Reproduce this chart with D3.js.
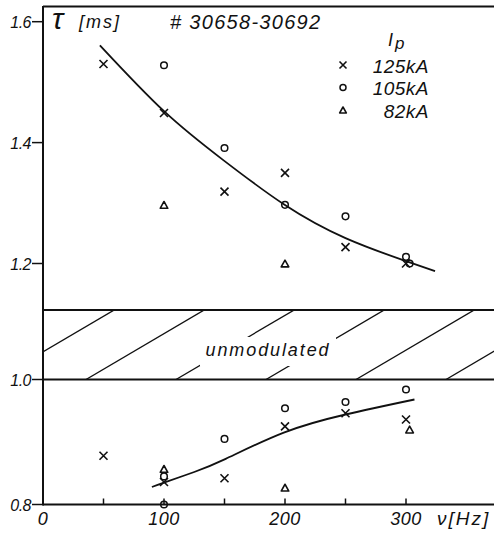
<!DOCTYPE html>
<html><head><meta charset="utf-8">
<script src="https://cdn.jsdelivr.net/npm/d3@7"></script>
<style>
html,body{margin:0;padding:0;background:#fff;}
svg{display:block;}
text{font-family:"Liberation Sans",Arial,sans-serif;font-style:italic;fill:#111;}
</style></head>
<body>
<script>
// ---- data ----
const xTicks = [0, 100, 200, 300];
const xMinorTicks = [50, 100, 150, 200, 250, 300];
const yTicks = [1.6, 1.4, 1.2, 1.0, 0.8];
const seriesNames = ["125kA", "105kA", "82kA"];
// upper panel (modulated)
const x125u = [50, 100, 150, 200, 250, 300];
const y125u = [1.53, 1.449, 1.319, 1.35, 1.227, 1.20];
const x105u = [100, 150, 200, 250, 300, 303];
const y105u = [1.528, 1.391, 1.297, 1.278, 1.211, 1.20];
const x82u = [100, 200];
const y82u = [1.296, 1.199];
// lower panel
const x125l = [50, 100, 150, 200, 250, 300];
const y125l = [0.878, 0.836, 0.842, 0.925, 0.946, 0.936];
const x105l = [100, 100, 150, 200, 250, 300];
const y105l = [0.80, 0.845, 0.905, 0.954, 0.964, 0.984];
const x82l = [100, 200, 303];
const y82l = [0.856, 0.826, 0.919];
// fitted curves
const fitUx = [47, 100, 149, 199, 250, 300, 324];
const fitUy = [1.561, 1.452, 1.371, 1.298, 1.242, 1.204, 1.187];
const fitLx = [90, 100, 125, 151, 199, 250, 307];
const fitLy = [0.828, 0.835, 0.852, 0.873, 0.915, 0.944, 0.968];
// unmodulated band
const bandLow = 1.0, bandHigh = 1.12;

const W = 494, H = 538;
const svg = d3.select("body").append("svg").attr("width", W).attr("height", H);

const x = d3.scaleLinear().domain([0, 300]).range([43, 406]);
const y = d3.scaleLinear().domain([0.8, 1.0, 1.2, 1.6]).range([504.5, 379.5, 263.5, 21.7]);

const ink = "#111";

// frame: top line, left axis, bottom axis
svg.append("line").attr("x1", x(0)).attr("x2", W).attr("y1", 6.5).attr("y2", 6.5)
  .attr("stroke", ink).attr("stroke-width", 2);
svg.append("line").attr("x1", x(0)).attr("x2", x(0)).attr("y1", 6).attr("y2", y(0.8) + 1)
  .attr("stroke", ink).attr("stroke-width", 2);
svg.append("line").attr("x1", x(0)).attr("x2", W).attr("y1", y(0.8)).attr("y2", y(0.8))
  .attr("stroke", ink).attr("stroke-width", 2);

// band
const by0 = y(bandHigh), by1 = y(bandLow);
svg.append("line").attr("x1", x(0)).attr("x2", W).attr("y1", by0).attr("y2", by0)
  .attr("stroke", ink).attr("stroke-width", 2);
svg.append("line").attr("x1", x(0)).attr("x2", W).attr("y1", by1).attr("y2", by1)
  .attr("stroke", ink).attr("stroke-width", 2);
const defs = svg.append("defs");
defs.append("clipPath").attr("id", "bandclip").append("rect")
  .attr("x", x(0) + 1).attr("y", by0).attr("width", W - x(0)).attr("height", by1 - by0);
const hatch = svg.append("g").attr("clip-path", "url(#bandclip)");
const slope = 1.7, step = 90;
for (let bx = 86 - 2 * step; bx < W + step; bx += step) {
  hatch.append("line").attr("x1", bx).attr("y1", by1)
    .attr("x2", bx + slope * (by1 - by0)).attr("y2", by0)
    .attr("stroke", ink).attr("stroke-width", 1.3);
}
hatch.append("rect").attr("x", 200).attr("y", 337).attr("width", 136).attr("height", 29).attr("fill", "#fff");
svg.append("text").attr("x", 268).attr("y", 356).attr("text-anchor", "middle")
  .attr("font-size", 18).attr("letter-spacing", 1.9).text("unmodulated");

// y ticks
const gy = svg.append("g");
yTicks.forEach(v => {
  gy.append("line").attr("x1", x(0) - 11).attr("x2", x(0)).attr("y1", y(v)).attr("y2", y(v))
    .attr("stroke", ink).attr("stroke-width", 1.5);
  gy.append("text").attr("x", x(0) - 12).attr("y", y(v) + 6).attr("text-anchor", "end")
    .attr("font-size", 16).attr("letter-spacing", -0.5).text(d3.format(".1f")(v));
});
// x ticks (inward)
xMinorTicks.forEach(v => {
  svg.append("line").attr("x1", x(v)).attr("x2", x(v)).attr("y1", y(0.8)).attr("y2", y(0.8) - 6)
    .attr("stroke", ink).attr("stroke-width", 1.5);
});
xTicks.forEach(v => {
  svg.append("text").attr("x", x(v)).attr("y", 525).attr("text-anchor", "middle")
    .attr("font-size", 18).attr("letter-spacing", 0.5).text(v);
});
svg.append("text").attr("x", 437).attr("y", 525).attr("font-size", 19).attr("letter-spacing", 2).text("ν[Hz]");

// header texts
svg.append("text").attr("x", 52).attr("y", 29).attr("font-size", 30)
  .attr("font-family", "DejaVu Serif").text("τ");
svg.append("text").attr("x", 79).attr("y", 28).attr("font-size", 18).attr("letter-spacing", 2).text("[ms]");
svg.append("text").attr("x", 170).attr("y", 29).attr("font-size", 20).attr("letter-spacing", 1.3).text("# 30658-30692");

// symbols
function drawCross(g, cx, cy, s) {
  g.append("path").attr("d", `M${cx - s},${cy - s}L${cx + s},${cy + s}M${cx - s},${cy + s}L${cx + s},${cy - s}`)
    .attr("stroke", ink).attr("stroke-width", 1.6).attr("fill", "none");
}
function drawCircle(g, cx, cy, r) {
  g.append("circle").attr("cx", cx).attr("cy", cy).attr("r", r)
    .attr("stroke", ink).attr("stroke-width", 1.5).attr("fill", "none");
}
function drawTri(g, cx, cy, s) {
  g.append("path").attr("d", `M${cx},${cy - s}L${cx + s * 0.95},${cy + s * 0.7}L${cx - s * 0.95},${cy + s * 0.7}Z`)
    .attr("stroke", ink).attr("stroke-width", 1.6).attr("fill", "none").attr("stroke-linejoin", "round");
}
const pts = svg.append("g");
function plot(xs, ys, fn, s) { xs.forEach((v, i) => fn(pts, x(v), y(ys[i]), s)); }
plot(x125u, y125u, drawCross, 4);
plot(x105u, y105u, drawCircle, 3.3);
plot(x82u, y82u, drawTri, 4);
plot(x125l, y125l, drawCross, 4);
plot(x105l, y105l, drawCircle, 3.3);
plot(x82l, y82l, drawTri, 4);

// fits
const line = d3.line().x(d => x(d[0])).y(d => y(d[1])).curve(d3.curveNatural);
svg.append("path").attr("d", line(fitUx.map((v, i) => [v, fitUy[i]])))
  .attr("fill", "none").attr("stroke", ink).attr("stroke-width", 1.8);
svg.append("path").attr("d", line(fitLx.map((v, i) => [v, fitLy[i]])))
  .attr("fill", "none").attr("stroke", ink).attr("stroke-width", 1.8);

// legend
const lg = svg.append("g");
const ip = lg.append("text").attr("x", 388).attr("y", 46).attr("font-size", 18);
ip.append("tspan").text("I");
ip.append("tspan").attr("dy", 3).attr("dx", 2).attr("font-size", 17).text("p");
const legY = [65, 87.5, 110.5];
const legFns = [drawCross, drawCircle, drawTri];
const legS = [3.5, 3, 3.5];
seriesNames.forEach((n, i) => {
  legFns[i](lg, 343, legY[i], legS[i]);
  lg.append("text").attr("x", 429).attr("y", legY[i] + 7.5).attr("text-anchor", "end")
    .attr("font-size", 19).attr("letter-spacing", 0.5).text(n);
});
</script>
</body></html>
